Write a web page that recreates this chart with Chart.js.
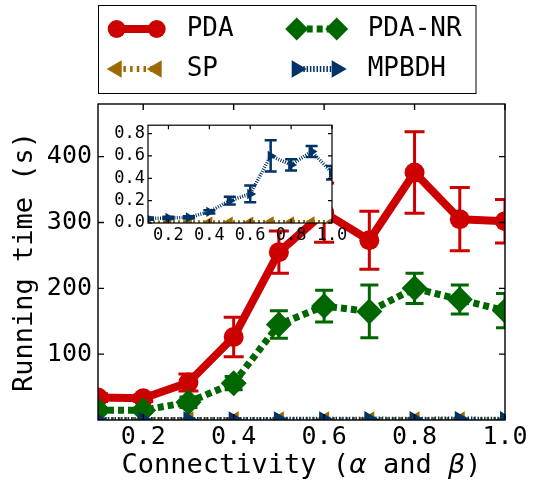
<!DOCTYPE html>
<html>
<head>
<meta charset="utf-8">
<script src="https://cdn.jsdelivr.net/npm/chart.js@4.4.0/dist/chart.umd.min.js"></script>
<style>
  html, body { margin: 0; padding: 0; background: #fff; }
  #wrap { position: relative; width: 534px; height: 483px; }
  #main { position: absolute; left: 0; top: 0; }
  #inset { position: absolute; left: 98px; top: 112px; }
</style>
</head>
<body>
<div id="wrap">
  <canvas id="main" width="534" height="483"></canvas>
  <canvas id="inset" width="254" height="135"></canvas>
</div>
<script>
// connectivity (alpha and beta)
const connectivity = [0.1, 0.2, 0.3, 0.4, 0.5, 0.6, 0.7, 0.8, 0.9, 1.0];

// running times (s) and error bars
const pdaTime = [34, 33, 57, 126, 255, 315, 273, 376, 305, 302];
const pdaErr = [6, 5, 13, 30, 32, 45, 44, 62, 48, 33];
const pdaNrTime = [15, 15, 27, 56, 145, 173, 165, 200, 183, 166];
const pdaNrErr = [4, 3, 8, 10, 21, 24, 40, 23, 22, 26];
const spTime = [0.010, 0.010, 0.011, 0.011, 0.012, 0.012, 0.013, 0.013, 0.014, 0.014];
const mpbdhTime = [0.04, 0.045, 0.05, 0.10, 0.20, 0.26, 0.60, 0.52, 0.64, 0.45];
const mpbdhErr = [0.01, 0.01, 0.01, 0.015, 0.035, 0.075, 0.14, 0.05, 0.05, 0.06];

const mainXTicks = [0.2, 0.4, 0.6, 0.8, 1.0];
const mainYTicks = [100, 200, 300, 400];
const insetXTicks = [0.2, 0.4, 0.6, 0.8, 1.0];
const insetYTicks = [0.0, 0.2, 0.4, 0.6, 0.8];

// x label pieces: [text, italic math?]
const xTitleParts = [["Connectivity (", false], ["α", true], [" and ", false], ["β", true], [")", false]];

const RED = "#cc0000", GREEN = "#006600", BROWN = "#9c6a00", BLUE = "#003366";
const MONO = "DejaVu Sans Mono";

const pts = ys => connectivity.map((x, i) => ({ x, y: ys[i] }));

function marker(ctx, style, rot, x, y, r, color) {
    ctx.save();
    ctx.fillStyle = color;
    ctx.beginPath();
    if (style === "circle") {
        ctx.arc(x, y, r, 0, Math.PI * 2);
    } else if (style === "rectRot") {
        ctx.moveTo(x - r, y); ctx.lineTo(x, y - r); ctx.lineTo(x + r, y); ctx.lineTo(x, y + r);
    } else {
        let a = rot * Math.PI / 180;
        for (let k = 0; k < 3; k++) {
            const px = x + Math.sin(a) * r, py = y - Math.cos(a) * r;
            k ? ctx.lineTo(px, py) : ctx.moveTo(px, py);
            a += Math.PI * 2 / 3;
        }
    }
    ctx.closePath();
    ctx.fill();
    ctx.restore();
}

// error bars, drawn under each dataset
const errorBars = {
    id: "errorBars",
    beforeDatasetDraw(chart, args) {
        const ds = chart.data.datasets[args.index];
        if (!ds.errors) return;
        const { ctx, chartArea: a } = chart;
        const ys = chart.scales.y;
        ctx.save();
        ctx.beginPath();
        ctx.rect(a.left, a.top, a.right - a.left, a.bottom - a.top);
        ctx.clip();
        ctx.strokeStyle = ds.borderColor;
        ctx.lineWidth = ds.errWidth;
        ctx.setLineDash([]);
        args.meta.data.forEach((p, i) => {
            const v = ds.data[i].y, e = ds.errors[i];
            const y1 = ys.getPixelForValue(v + e), y2 = ys.getPixelForValue(v - e);
            ctx.beginPath();
            ctx.moveTo(p.x, y1); ctx.lineTo(p.x, y2);
            ctx.moveTo(p.x - ds.capSize, y1); ctx.lineTo(p.x + ds.capSize, y1);
            ctx.moveTo(p.x - ds.capSize, y2); ctx.lineTo(p.x + ds.capSize, y2);
            ctx.stroke();
        });
        ctx.restore();
    }
};

// box frame with inward ticks on all sides
const frame = {
    id: "frame",
    beforeDatasetsDraw(chart, args, opts) {
        if (!opts.fill) return;
        const { ctx, chartArea: a } = chart;
        ctx.save();
        ctx.fillStyle = opts.fill;
        ctx.fillRect(a.left, a.top, a.right - a.left, a.bottom - a.top);
        ctx.restore();
    },
    afterDatasetsDraw(chart, args, opts) {
        const { ctx, chartArea: a, scales } = chart;
        const L = opts.tickLen;
        ctx.save();
        ctx.strokeStyle = "#000";
        ctx.lineWidth = opts.width;
        ctx.setLineDash([]);
        ctx.beginPath();
        scales.x.ticks.forEach(t => {
            const px = scales.x.getPixelForValue(t.value);
            ctx.moveTo(px, a.bottom); ctx.lineTo(px, a.bottom - L);
            ctx.moveTo(px, a.top); ctx.lineTo(px, a.top + L);
        });
        scales.y.ticks.forEach(t => {
            const py = scales.y.getPixelForValue(t.value);
            ctx.moveTo(a.left, py); ctx.lineTo(a.left + L, py);
            ctx.moveTo(a.right, py); ctx.lineTo(a.right - L, py);
        });
        ctx.stroke();
        ctx.strokeRect(a.left, a.top, a.right - a.left, a.bottom - a.top);
        ctx.restore();
    }
};

// x axis label with italic greek letters
const mathTitle = {
    id: "mathTitle",
    afterDraw(chart) {
        const ctx = chart.ctx;
        const a = chart.chartArea;
        const fontOf = it => it ? "oblique 27px 'DejaVu Sans'" : "27px '" + MONO + "'";
        ctx.save();
        ctx.fillStyle = "#000";
        ctx.textBaseline = "middle";
        ctx.textAlign = "left";
        let total = 0;
        xTitleParts.forEach(([t, it]) => { ctx.font = fontOf(it); total += ctx.measureText(t).width; });
        let x = (a.left + a.right) / 2 - total / 2;
        xTitleParts.forEach(([t, it]) => {
            ctx.font = fontOf(it);
            ctx.fillText(t, x, 466);
            x += ctx.measureText(t).width;
        });
        ctx.restore();
    }
};

// two-column legend in a box above the plot
const boxLegend = {
    id: "boxLegend",
    afterDraw(chart) {
        const ctx = chart.ctx;
        const ds = chart.data.datasets;
        const slots = [
            { i: 0, x: 116.7, tx: 186.7, y: 29 },
            { i: 1, x: 296.7, tx: 367.7, y: 29 },
            { i: 2, x: 116.7, tx: 186.7, y: 69 },
            { i: 3, x: 296.7, tx: 367.7, y: 69 }
        ];
        ctx.save();
        ctx.strokeStyle = "#000";
        ctx.lineWidth = 1;
        ctx.strokeRect(98.5, 5.5, 377.5, 88);
        slots.forEach(s => {
            const d = ds[s.i];
            ctx.save();
            ctx.strokeStyle = d.borderColor;
            ctx.lineWidth = d.borderWidth;
            ctx.setLineDash(d.borderDash || []);
            ctx.beginPath();
            ctx.moveTo(s.x, s.y);
            ctx.lineTo(s.x + 40, s.y);
            ctx.stroke();
            ctx.restore();
            marker(ctx, d.pointStyle, d.pointRotation || 0, s.x, s.y, d.legendRadius, d.borderColor);
            marker(ctx, d.pointStyle, d.pointRotation || 0, s.x + 40, s.y, d.legendRadius, d.borderColor);
            ctx.fillStyle = "#000";
            ctx.font = "26px '" + MONO + "'";
            ctx.textBaseline = "middle";
            ctx.textAlign = "left";
            ctx.fillText(d.label, s.tx, s.y);
        });
        ctx.restore();
    }
};

function axis(min, max, tickVals, fmt, size, fitKey, fitVal, padding, title) {
    return {
        type: "linear",
        min, max,
        afterBuildTicks: s => { s.ticks = tickVals.map(v => ({ value: v })); },
        afterFit: s => { s[fitKey] = fitVal; },
        grid: { display: false, drawTicks: false },
        border: { display: false },
        ticks: {
            autoSkip: false, maxRotation: 0, padding, color: "#000",
            font: { family: MONO, size },
            callback: fmt
        },
        title: title
    };
}

new Chart(document.getElementById("main"), {
    type: "line",
    data: {
        datasets: [
            {
                label: "PDA", data: pts(pdaTime), errors: pdaErr, errWidth: 3, capSize: 10,
                borderColor: RED, backgroundColor: RED, borderWidth: 8,
                pointStyle: "circle", pointRadius: 10, pointBorderWidth: 0, legendRadius: 9,
                borderJoinStyle: "round", clip: 0, order: 4
            },
            {
                label: "PDA-NR", data: pts(pdaNrTime), errors: pdaNrErr, errWidth: 3, capSize: 9,
                borderColor: GREEN, backgroundColor: GREEN, borderWidth: 7, borderDash: [6, 4],
                pointStyle: "rectRot", pointRadius: 13, pointBorderWidth: 0, legendRadius: 11.5,
                clip: 0, order: 2
            },
            {
                label: "SP", data: pts(spTime),
                borderColor: BROWN, backgroundColor: BROWN, borderWidth: 6, borderDash: [2.5, 4.2],
                pointStyle: "triangle", pointRotation: -90, pointRadius: 10, pointBorderWidth: 0, legendRadius: 10,
                clip: 0, order: 3
            },
            {
                label: "MPBDH", data: pts(mpbdhTime),
                borderColor: BLUE, backgroundColor: BLUE, borderWidth: 6, borderDash: [1.5, 1.8],
                pointStyle: "triangle", pointRotation: 90, pointRadius: 10, pointBorderWidth: 0, legendRadius: 10,
                clip: 0, order: 1
            }
        ]
    },
    options: {
        responsive: false,
        animation: false,
        devicePixelRatio: 1,
        layout: { padding: { top: 104, right: 29, left: 0, bottom: 0 } },
        plugins: {
            legend: { display: false },
            tooltip: { enabled: false },
            frame: { tickLen: 6, width: 1.4 }
        },
        scales: {
            x: axis(0.1, 1.0, mainXTicks, v => v.toFixed(1), 25, "height", 63, 2, { display: false }),
            y: axis(0, 480, mainYTicks, v => String(v), 25, "width", 98, 6, {
                display: true, text: "Running time (s)", color: "#000",
                font: { family: MONO, size: 27, weight: "normal" }, padding: { top: 9, bottom: 0 }
            })
        }
    },
    plugins: [errorBars, frame, boxLegend, mathTitle]
});

new Chart(document.getElementById("inset"), {
    type: "line",
    data: {
        datasets: [
            {
                label: "SP", data: pts(spTime),
                borderColor: BROWN, backgroundColor: BROWN, borderWidth: 3, borderDash: [2, 3],
                pointStyle: "triangle", pointRotation: -90, pointRadius: 6, pointBorderWidth: 0,
                clip: 0, order: 2
            },
            {
                label: "MPBDH", data: pts(mpbdhTime), errors: mpbdhErr, errWidth: 2.5, capSize: 6,
                borderColor: BLUE, backgroundColor: BLUE, borderWidth: 3.5, borderDash: [1, 1.4],
                pointStyle: "triangle", pointRotation: 90, pointRadius: 6, pointBorderWidth: 0,
                clip: 0, order: 1
            }
        ]
    },
    options: {
        responsive: false,
        animation: false,
        devicePixelRatio: 1,
        layout: { padding: { top: 12, right: 20, left: 0, bottom: 0 } },
        plugins: {
            legend: { display: false },
            tooltip: { enabled: false },
            frame: { tickLen: 4, width: 1.2, fill: "#fff" }
        },
        scales: {
            x: axis(0.1, 1.0, insetXTicks, v => v.toFixed(1), 17, "height", 24, 2, { display: false }),
            y: axis(0, 0.875, insetYTicks, v => v.toFixed(1), 17, "width", 50, 3, { display: false })
        }
    },
    plugins: [errorBars, frame]
});
</script>
</body>
</html>
